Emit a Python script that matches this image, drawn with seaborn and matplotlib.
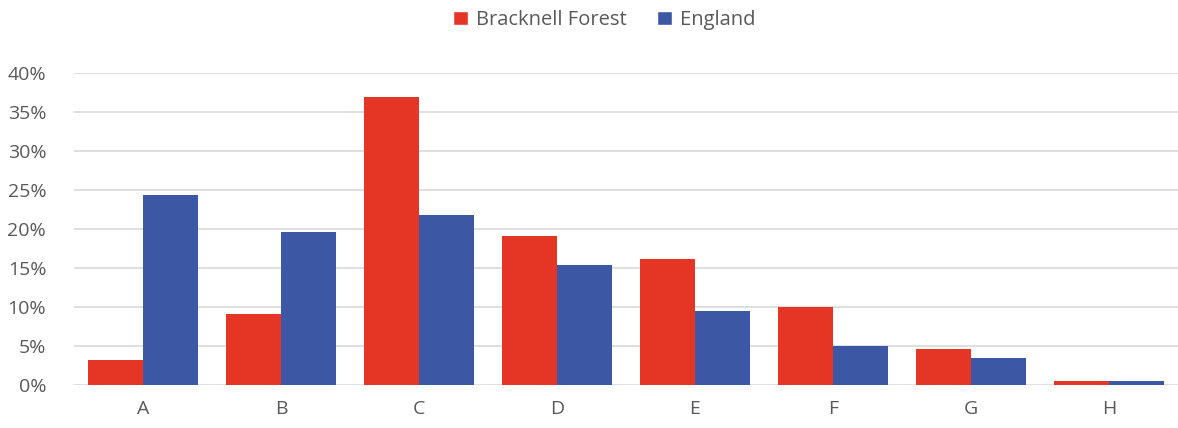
import numpy as np
import pandas as pd
import seaborn as sns
import matplotlib.pyplot as plt
from matplotlib.ticker import PercentFormatter
from matplotlib.patches import Patch

# values (percent)
bands = ["A", "B", "C", "D", "E", "F", "G", "H"]
bracknell = [3.2, 9.1, 36.9, 19.1, 16.1, 10.0, 4.6, 0.5]
england = [24.4, 19.6, 21.8, 15.4, 9.5, 5.0, 3.5, 0.5]
series = ["Bracknell Forest", "England"]
colors = ["#E43525", "#3C58A4"]

df = pd.DataFrame({
    "band": bands * 2,
    "area": [series[0]] * len(bands) + [series[1]] * len(bands),
    "value": bracknell + england,
})

sns.set_style("white")
plt.rcParams['font.family'] = ['Open Sans', 'DejaVu Sans']

fig = plt.figure(figsize=(11.78, 4.28), dpi=100)
ax = fig.add_axes([0.0628, 0.1005, 0.937, 0.729])

sns.barplot(data=df, x="band", y="value", hue="area", order=bands,
            hue_order=series, palette=colors, width=0.8, saturation=1,
            edgecolor="none", linewidth=0, legend=False, ax=ax)

ax.set_ylim(0, 40)
ax.set_xlim(-0.5, len(bands) - 0.5)
ax.set_yticks(np.arange(0, 41, 5))
ax.yaxis.set_major_formatter(PercentFormatter(decimals=0))
ax.grid(axis="y", color="#D9D9D9", linewidth=1.2)
ax.set_axisbelow(True)
for s in ax.spines.values():
    s.set_visible(False)
ax.tick_params(axis="both", length=0, labelsize=14, colors="#595959")
ax.tick_params(axis="y", pad=20)
ax.tick_params(axis="x", pad=11)
ax.set_xlabel("")
ax.set_ylabel("")

handles = [Patch(facecolor=c, label=s) for c, s in zip(colors, series)]
leg = fig.legend(handles=handles, loc="center", bbox_to_anchor=(0.513, 0.953),
                 ncol=2, frameon=False, fontsize=14.5, handlelength=0.75,
                 handleheight=0.75, handletextpad=0.4, columnspacing=1.5)
for t in leg.get_texts():
    t.set_color("#595959")

fig.savefig("out.png", dpi=100)
